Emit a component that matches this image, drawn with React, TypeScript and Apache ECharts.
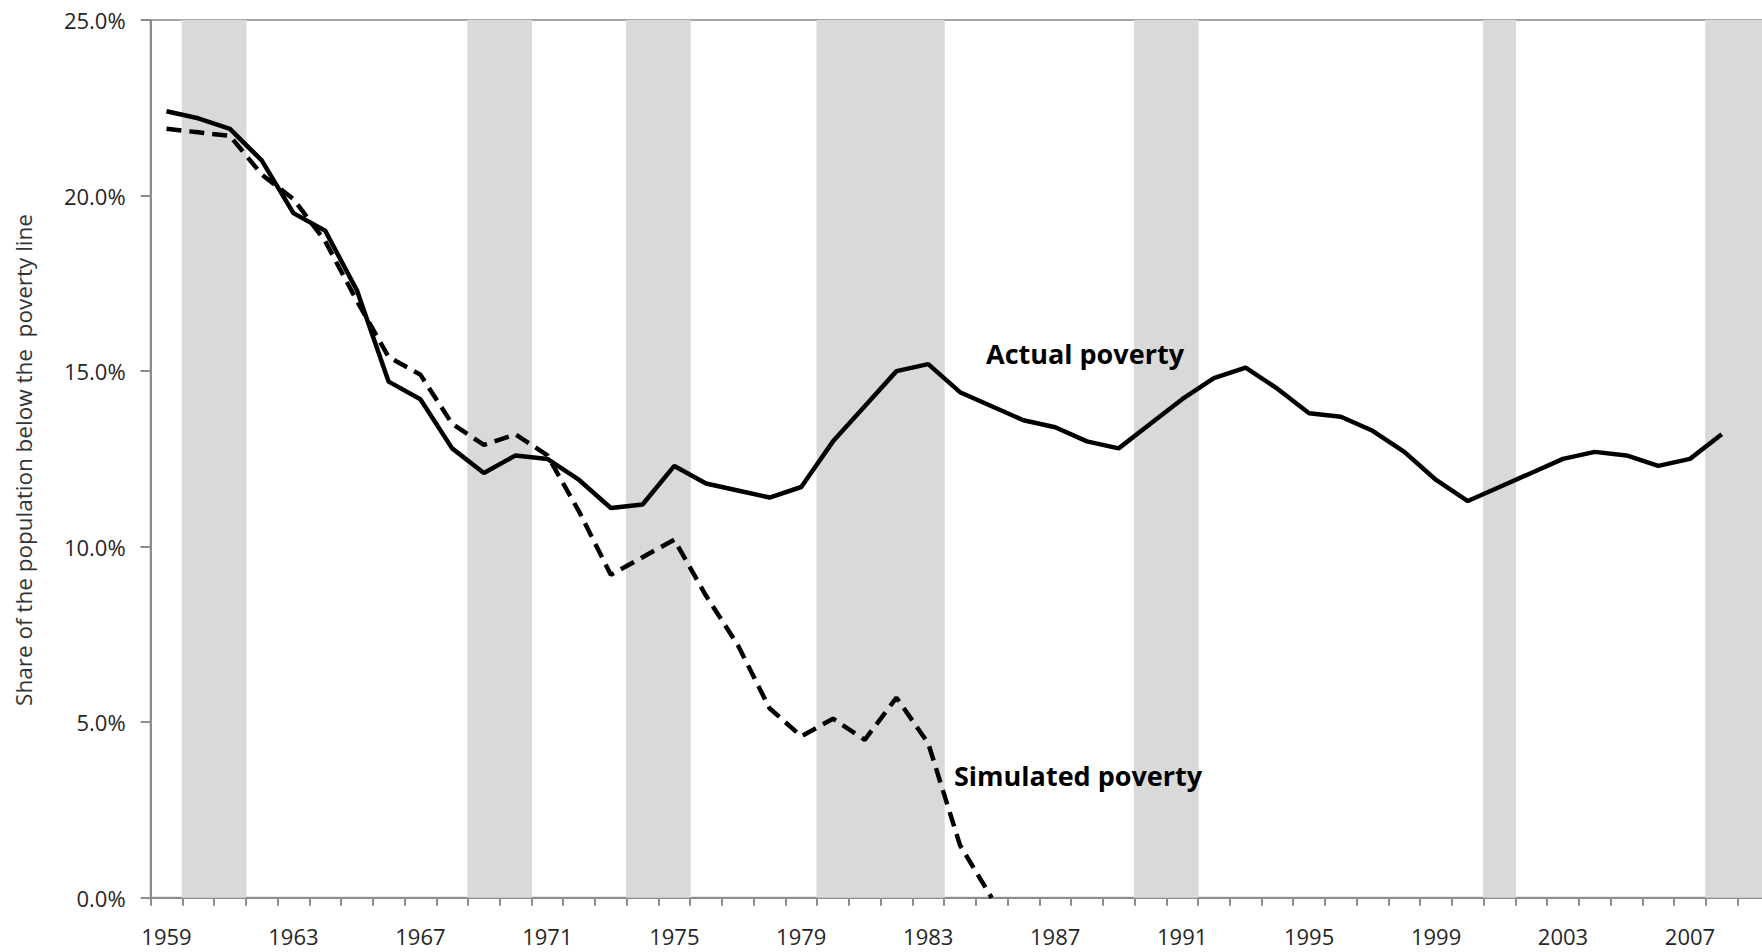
import React, { useEffect, useRef } from "react";
import * as echarts from "echarts";

const years = [
  "1959","1960","1961","1962","1963","1964","1965","1966","1967","1968",
  "1969","1970","1971","1972","1973","1974","1975","1976","1977","1978",
  "1979","1980","1981","1982","1983","1984","1985","1986","1987","1988",
  "1989","1990","1991","1992","1993","1994","1995","1996","1997","1998",
  "1999","2000","2001","2002","2003","2004","2005","2006","2007","2008",
  "2009",
];

const actualPoverty = [
  22.4, 22.2, 21.9, 21.0, 19.5, 19.0, 17.3, 14.7, 14.2, 12.8,
  12.1, 12.6, 12.5, 11.9, 11.1, 11.2, 12.3, 11.8, 11.6, 11.4,
  11.7, 13.0, 14.0, 15.0, 15.2, 14.4, 14.0, 13.6, 13.4, 13.0,
  12.8, 13.5, 14.2, 14.8, 15.1, 14.5, 13.8, 13.7, 13.3, 12.7,
  11.9, 11.3, 11.7, 12.1, 12.5, 12.7, 12.6, 12.3, 12.5, 13.2,
];

const simulatedPoverty = [
  21.9, 21.8, 21.7, 20.6, 19.9, 18.7, 17.0, 15.4, 14.9, 13.5,
  12.9, 13.2, 12.6, 11.0, 9.2, 9.7, 10.2, 8.6, 7.2, 5.4,
  4.6, 5.1, 4.5, 5.7, 4.4, 1.5, 0.0,
];

const recessionYears = [
  "1960","1961","1969","1970","1974","1975","1980","1981","1982","1983",
  "1990","1991","2001","2008","2009",
];

const yMax = 25;
const yTickInterval = 5;

export default function App() {
  const ref = useRef<HTMLDivElement>(null);

  useEffect(() => {
    if (!ref.current) return;
    document.documentElement.style.overflow = "hidden";
    document.body.style.overflow = "hidden";
    document.body.style.margin = "0";
    const chart = echarts.init(ref.current, undefined, { renderer: "svg" });
    const font = "'Open Sans', sans-serif";
    const recessionData = years.map((y) => (recessionYears.includes(y) ? yMax : null));
    const simData = years.map((_, i) => (i < simulatedPoverty.length ? simulatedPoverty[i] : null));
    const actData = years.map((_, i) => (i < actualPoverty.length ? actualPoverty[i] : null));

    chart.setOption({
      animation: false,
      backgroundColor: "#ffffff",
      grid: {
        left: 150.6,
        top: 20,
        width: 51 * 31.74,
        height: 877.8,
        show: true,
        borderColor: "#a6a6a6",
        borderWidth: 2,
        backgroundColor: "transparent",
      },
      xAxis: {
        type: "category",
        data: years,
        boundaryGap: true,
        axisLine: { show: true, lineStyle: { color: "#8c8c8c", width: 2 } },
        axisTick: { show: true, interval: 0, length: 8, lineStyle: { color: "#8c8c8c", width: 2 } },
        axisLabel: {
          interval: 3,
          margin: 27,
          fontSize: 22,
          lineHeight: 22,
          fontFamily: font,
          color: "#262626",
        },
        splitLine: { show: false },
      },
      yAxis: {
        type: "value",
        min: 0,
        max: yMax,
        interval: yTickInterval,
        axisLine: { show: true, lineStyle: { color: "#8c8c8c", width: 2 } },
        axisTick: { show: true, length: 10, lineStyle: { color: "#8c8c8c", width: 2 } },
        axisLabel: {
          margin: 25,
          fontSize: 22,
          fontFamily: font,
          color: "#262626",
          formatter: (v: number) => v.toFixed(1) + "%",
        },
        splitLine: { show: false },
      },
      series: [
        {
          type: "bar",
          data: recessionData,
          barWidth: 33,
          barGap: "0%",
          itemStyle: { color: "#d9d9d9" },
          silent: true,
          z: 1,
        },
        {
          type: "line",
          name: "Simulated poverty",
          data: simData,
          showSymbol: false,
          symbol: "none",
          lineStyle: { color: "#000000", width: 4.5, type: [15, 8], cap: "butt" },
          z: 3,
        },
        {
          type: "line",
          name: "Actual poverty",
          data: actData,
          showSymbol: false,
          symbol: "none",
          lineStyle: { color: "#000000", width: 4.5 },
          z: 4,
        },
      ],
      graphic: [
        {
          type: "text",
          x: 986,
          y: 353,
          style: {
            text: "Actual poverty",
            fontFamily: font,
            fontWeight: "bold",
            fontSize: 27,
            fill: "#000000",
            align: "left",
            verticalAlign: "middle",
          },
          z: 10,
        },
        {
          type: "text",
          x: 954,
          y: 775,
          style: {
            text: "Simulated poverty",
            fontFamily: font,
            fontWeight: "bold",
            fontSize: 27,
            fill: "#000000",
            align: "left",
            verticalAlign: "middle",
          },
          z: 10,
        },
        {
          type: "text",
          x: 23,
          y: 460,
          rotation: Math.PI / 2,
          style: {
            text: "Share of the population below the  poverty line",
            fontFamily: font,
            fontSize: 22.5,
            fill: "#333333",
            align: "center",
            verticalAlign: "middle",
          },
          z: 10,
        },
      ],
    });

    return () => chart.dispose();
  }, []);

  return (
    <div
      ref={ref}
      style={{ position: "fixed", left: 0, top: 0, width: 1780, height: 952 }}
    />
  );
}
